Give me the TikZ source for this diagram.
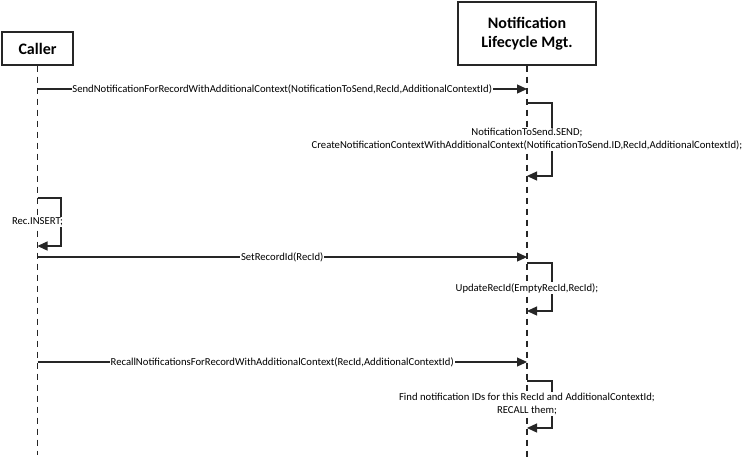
\documentclass[tikz,border=0pt]{standalone}
\usepackage{fontspec}
\setmainfont{Carlito}
\usetikzlibrary{arrows.meta}
\begin{document}
\begin{tikzpicture}[x=0.75pt,y=-0.75pt,
  lineclr/.style={draw=black!85},
  actor/.style={draw=black!85,line width=0.9pt,fill=white,inner sep=0pt,align=center,font=\fontsize{12}{14.2}\selectfont\bfseries},
  lifeline/.style={lineclr,line width=0.8pt,dash pattern=on 4.5pt off 3.75pt},
  msg/.style={lineclr,line width=0.8pt,-{Triangle[length=7.5pt,width=6.8pt]}},
  lbl/.style={fill=white,inner sep=0.6pt,align=center,font=\fontsize{8}{9.75}\selectfont},
]
\useasboundingbox (0,0) rectangle (750,461);
% actors
\node[actor,minimum width=53.25pt,minimum height=24.75pt] (caller) at (37.5,48.5) {Caller};
\node[actor,minimum width=103.5pt,minimum height=47.25pt] (nlm) at (527,33.5) {Notification\\Lifecycle Mgt.};
% lifeline ends
\coordinate (cend) at (37.5,455);
\coordinate (nend) at (527,461);
\draw[lifeline] (caller.south) -- (cend);
\draw[lifeline] (nlm.south) -- (nend);
% message 1
\coordinate (m1a) at (37.5,89);
\coordinate (m1b) at (527,89);
\draw[msg] (m1a) -- node[lbl] (m1l) {SendNotificationForRecordWithAdditionalContext(NotificationToSend,RecId,AdditionalContextId)} (m1b);
% self loop 1
\coordinate (s1a) at (527,103);
\coordinate (s1b) at (527,176);
\draw[msg] (s1a) -- (552,103) -- (552,176) -- (s1b);
\node[lbl] (s1l) at (527,139.5) {NotificationToSend.SEND;\\CreateNotificationContextWithAdditionalContext(NotificationToSend.ID,RecId,AdditionalContextId);};
% self loop caller
\coordinate (s2a) at (37.5,198);
\coordinate (s2b) at (37.5,246);
\draw[msg] (s2a) -- (61,198) -- (61,246) -- (s2b);
\node[lbl] (s2l) at (37.5,222) {Rec.INSERT;};
% message 2
\coordinate (m2a) at (37.5,257);
\coordinate (m2b) at (527,257);
\draw[msg] (m2a) -- node[lbl] (m2l) {SetRecordId(RecId)} (m2b);
% self loop 3
\coordinate (s3a) at (527,263);
\coordinate (s3b) at (527,311);
\draw[msg] (s3a) -- (552,263) -- (552,311) -- (s3b);
\node[lbl] (s3l) at (527,288) {UpdateRecId(EmptyRecId,RecId);};
% message 3
\coordinate (m3a) at (37.5,362);
\coordinate (m3b) at (527,362);
\draw[msg] (m3a) -- node[lbl] (m3l) {RecallNotificationsForRecordWithAdditionalContext(RecId,AdditionalContextId)} (m3b);
% self loop 4
\coordinate (s4a) at (527,381);
\coordinate (s4b) at (527,428);
\draw[msg] (s4a) -- (552,381) -- (552,428) -- (s4b);
\node[lbl] (s4l) at (527,404) {Find notification IDs for this RecId and AdditionalContextId;\\RECALL them;};
\end{tikzpicture}
\end{document}
